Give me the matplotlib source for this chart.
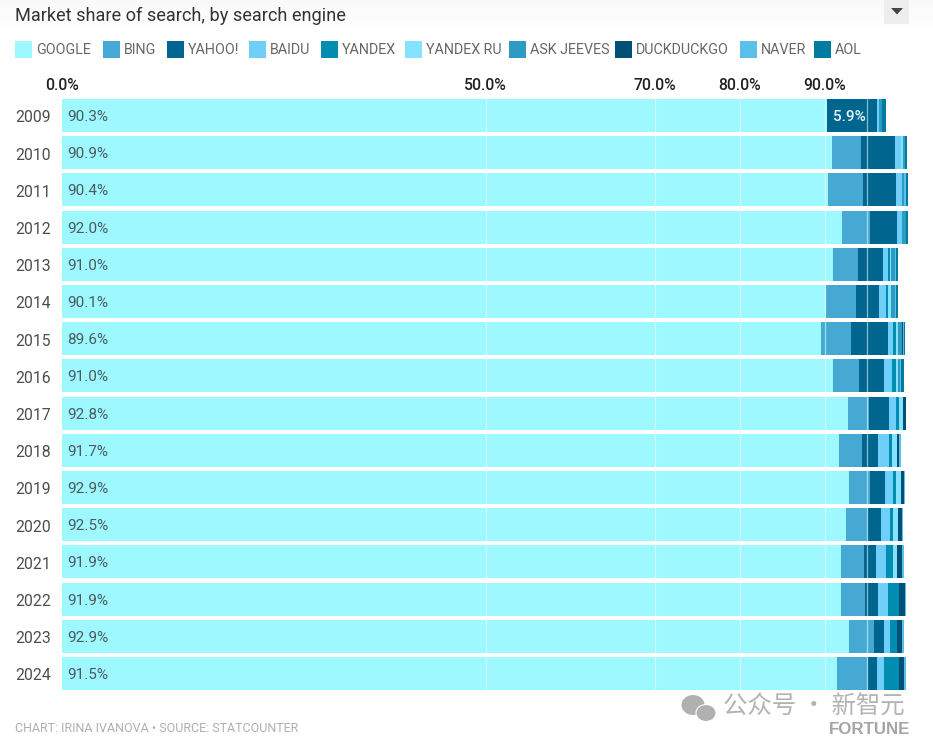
import matplotlib
matplotlib.use("Agg")
import matplotlib.pyplot as plt
from matplotlib.patches import Rectangle, Polygon, Ellipse
from matplotlib.transforms import ScaledTranslation
import numpy as np

W, H = 933, 746

years = [2009, 2010, 2011, 2012, 2013, 2014, 2015, 2016,
         2017, 2018, 2019, 2020, 2021, 2022, 2023, 2024]

google = [90.3, 90.9, 90.4, 92.0, 91.0, 90.1, 89.6, 91.0,
          92.8, 91.7, 92.9, 92.5, 91.9, 91.9, 92.9, 91.5]
bing = [0, 3.43, 4.14, 3.3, 2.95, 3.55, 3.55, 3.07,
        2.48, 2.72, 2.48, 2.6, 2.72, 2.84, 2.95, 3.66]
yahoo = [5.9, 4.0, 3.9, 3.2, 2.95, 2.72, 4.26, 2.95,
         2.25, 1.89, 1.77, 1.54, 1.42, 1.54, 1.18, 0.95]
baidu = [0.2, 0.7, 0.7, 0.6, 0.6, 0.83, 0.6, 0.95,
         0.83, 1.3, 0.95, 1.06, 1.18, 1.18, 0.71, 0.83]
yandex = [0, 0, 0, 0, 0.24, 0.24, 0.35, 0.47,
          0.35, 0.35, 0.35, 0.35, 0.83, 1.3, 0.83, 1.77]
yandex_ru = [0, 0.16, 0, 0, 0.12, 0.35, 0.24, 0.24,
             0.47, 0.59, 0.59, 0.59, 0.47, 0, 0, 0]
ask_jeeves = [0.4, 0.28, 0.25, 0.47, 0.47, 0.47, 0.47, 0.24,
              0, 0, 0, 0, 0, 0, 0, 0]
duckduckgo = [0, 0, 0, 0, 0, 0, 0.12, 0,
              0.35, 0.24, 0.35, 0.47, 0.59, 0.71, 0.59, 0.59]
naver = [0, 0, 0.25, 0, 0.12, 0.12, 0.12, 0.12,
         0, 0.24, 0.12, 0.12, 0.24, 0.08, 0.24, 0.24]
aol = [0.43, 0.28, 0.24, 0.24, 0.24, 0.24, 0.12, 0.35,
       0, 0, 0, 0, 0, 0, 0, 0.08]

series = [google, bing, yahoo, baidu, yandex, yandex_ru, ask_jeeves, duckduckgo, naver, aol]
names = ["GOOGLE", "BING", "YAHOO!", "BAIDU", "YANDEX", "YANDEX RU",
         "ASK JEEVES", "DUCKDUCKGO", "NAVER", "AOL"]
colors = ["#9DF8FF", "#45A9D3", "#00668F", "#70CFF8", "#008DB1",
          "#86E3FF", "#2D9BC2", "#005078", "#59C0EA", "#007CA0"]
legend_x = [15, 103, 167, 249, 321, 405, 509, 615, 740, 814]

ticks = [0, 50, 70, 80, 90]
grid_lines = [50, 70, 80, 90, 95]

plt.rcParams["font.family"] = ["Roboto", "Noto Sans CJK SC", "DejaVu Sans"]


def fx(px):
    return px / W


def fy(py):
    return 1 - py / H


fig = plt.figure(figsize=(W / 100, H / 100), dpi=100, facecolor="white")

# faint gradient behind the title
bg = fig.add_axes([0, fy(36), 1, 36 / H], zorder=0)
bg.imshow(np.linspace(0.975, 1, 36).reshape(-1, 1), cmap="gray", vmin=0, vmax=1, aspect="auto")
bg.axis("off")

# 0-100% spans pixels 62-909.5, rows sit 37.2 px apart
top, bottom = 96.9, 692.1
ax = fig.add_axes([fx(62), fy(bottom), 847.5 / W, (bottom - top) / H], zorder=1)
ax.set_xlim(0, 100)
ax.set_ylim(len(years) - 0.5, -0.5)
ax.patch.set_alpha(0)

y = np.arange(len(years))
left = np.zeros(len(years))
for vals, c in zip(series, colors):
    ax.barh(y, vals, left=left, height=0.885, color=c, linewidth=0)
    left += np.array(vals)

for g in grid_lines:
    ax.axvline(g, color="white", lw=0.9, alpha=0.55, zorder=3)

for s in ax.spines.values():
    s.set_visible(False)
ax.xaxis.tick_top()
ax.set_xticks(ticks)
ax.set_xticklabels([f"{t:.1f}%" for t in ticks], fontsize=11.3, fontweight="medium", color="#222222")
ax.set_yticks(y)
ax.set_yticklabels(years, fontsize=11.3, color="#4d4d4d")
ax.tick_params(length=0)
ax.tick_params(axis="x", pad=3)
ax.tick_params(axis="y", pad=0)
nudge = ScaledTranslation(0, -1 / 100, fig.dpi_scale_trans)
for lab in ax.get_yticklabels():
    lab.set_horizontalalignment("left")
    lab.set_x(-47 / 847.5)
    lab.set_transform(lab.get_transform() + nudge)

for i, v in enumerate(google):
    ax.text(0.65, i + 0.04, f"{v:.1f}%", va="center", ha="left", fontsize=11, color="#4d5a5c", zorder=4)
ax.text(google[0] + yahoo[0] / 2 - 0.4, 0.04, f"{yahoo[0]:.1f}%", va="center", ha="center",
        fontsize=11, fontweight="medium", color="#E8F6FA", zorder=4)

fig.text(fx(15), fy(15.5), "Market share of search, by search engine", fontsize=13.1,
         color="#333333", va="center", ha="left")

# dropdown button
fig.add_artist(Rectangle((fx(884), fy(24)), 25 / W, 24 / H, transform=fig.transFigure,
                         color="#EEEEEE", lw=0, zorder=2))
fig.add_artist(Polygon([(fx(891), fy(8)), (fx(903), fy(8)), (fx(897), fy(14.5))],
                       transform=fig.transFigure, color="#444444", lw=0, zorder=3))

# legend row
for name, c, lx in zip(names, colors, legend_x):
    fig.add_artist(Rectangle((fx(lx), fy(58)), 17 / W, 17 / H, transform=fig.transFigure,
                             color=c, lw=0))
    fig.text(fx(lx + 21), fy(50.5), name, fontsize=10.3, color="#666666", va="center", ha="left")

fig.text(fx(15), fy(728), "CHART: IRINA IVANOVA • SOURCE: STATCOUNTER", fontsize=9,
         color="#b0b0b0", va="center", ha="left")

# watermark
fig.add_artist(Ellipse((fx(693), fy(705)), 23 / W, 20 / H, transform=fig.transFigure,
                       color="#b0b0b0", lw=0, zorder=6))
fig.add_artist(Ellipse((fx(706), fy(713)), 20 / W, 17 / H, transform=fig.transFigure,
                       facecolor="#b0b0b0", edgecolor="white", lw=0.8, zorder=6))
fig.text(fx(723), fy(707), "公众号 · 新智元", fontsize=17.6, color="#b3b3b3",
         va="center", ha="left", zorder=6, fontfamily=["Noto Sans CJK SC", "DejaVu Sans"])
fig.text(fx(829), fy(730), "FORTUNE", fontsize=12.2, fontweight="bold", color="#a5a5a5",
         va="center", ha="left", zorder=7, fontfamily=["Liberation Sans"])

fig.savefig("out.png", dpi=100)
